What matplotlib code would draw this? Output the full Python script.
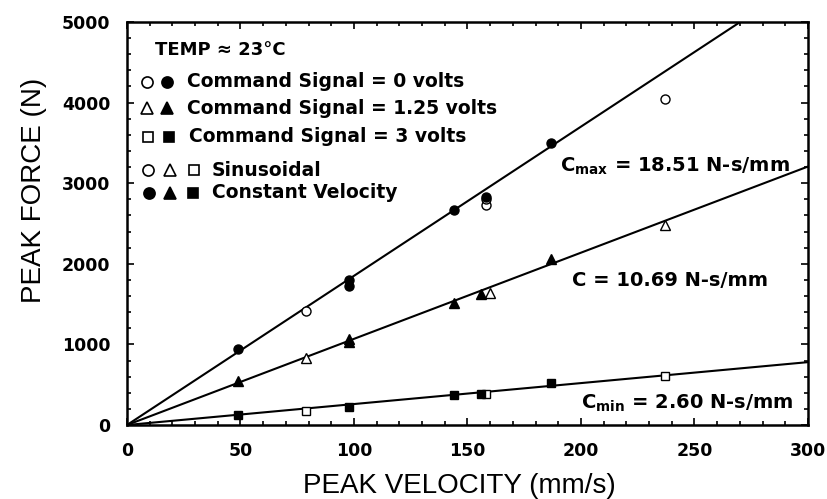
import matplotlib
matplotlib.use("Agg")
import matplotlib.pyplot as plt
import numpy as np
from matplotlib.ticker import MultipleLocator

plt.rcParams['font.family'] = ['Liberation Sans', 'DejaVu Sans']

# Fitted damping coefficients (N-s/mm)
c_max = 18.51
c_mid = 10.69
c_min = 2.60

# 0 volts (circles)
v0_sin = [79, 158, 158, 237]
f0_sin = [1420, 2730, 2800, 4040]
v0_cv = [49, 98, 98, 144, 158, 187]
f0_cv = [940, 1730, 1800, 2670, 2830, 3500]

# 1.25 volts (triangles)
v1_sin = [79, 160, 237]
f1_sin = [830, 1640, 2480]
v1_cv = [49, 98, 98, 144, 156, 187]
f1_cv = [540, 1030, 1070, 1510, 1630, 2060]

# 3 volts (squares)
v3_sin = [79, 158, 237]
f3_sin = [170, 380, 610]
v3_cv = [49, 98, 144, 156, 187]
f3_cv = [130, 220, 370, 380, 520]

W, H = 828, 499
fig = plt.figure(figsize=(W / 100, H / 100), dpi=100)


def fx(px):
    return px / W


def fy(py):
    return 1 - py / H


ax = fig.add_axes([fx(127), fy(425), fx(808) - fx(127), fy(22) - fy(425)])

vfit = np.linspace(0, 300, 200)
for c in (c_max, c_mid, c_min):
    ax.plot(vfit, c * vfit, color='black', lw=1.5, zorder=2)

ms = 6.5
ax.plot(v0_sin, f0_sin, 'o', mfc='white', mec='black', ms=ms, mew=1.0, zorder=3)
ax.plot(v0_cv, f0_cv, 'o', mfc='black', mec='black', ms=ms, zorder=3)
ax.plot(v1_sin, f1_sin, '^', mfc='white', mec='black', ms=ms, mew=1.0, zorder=3)
ax.plot(v1_cv, f1_cv, '^', mfc='black', mec='black', ms=ms, zorder=3)
ax.plot(v3_sin, f3_sin, 's', mfc='white', mec='black', ms=ms - 1, mew=1.0, zorder=3)
ax.plot(v3_cv, f3_cv, 's', mfc='black', mec='black', ms=ms - 1, zorder=3)

ax.set_xlim(0, 300)
ax.set_ylim(0, 5000)
ax.xaxis.set_major_locator(MultipleLocator(50))
ax.yaxis.set_major_locator(MultipleLocator(1000))
ax.xaxis.set_minor_locator(MultipleLocator(10))
ax.yaxis.set_minor_locator(MultipleLocator(200))
ax.tick_params(which='both', direction='in', top=True, right=True, width=1.2)
ax.tick_params(which='major', length=5, labelsize=12.5)
ax.tick_params(which='minor', length=3)
ax.tick_params(axis='x', which='major', pad=12)
ax.tick_params(axis='y', which='major', pad=12)
for lab in ax.get_xticklabels() + ax.get_yticklabels():
    lab.set_fontweight('bold')
    lab.set_family('DejaVu Sans')
for s in ax.spines.values():
    s.set_linewidth(1.8)

fig.text(fx(303), fy(486), 'PEAK VELOCITY (mm/s)', fontsize=20, ha='left', va='center')
fig.text(fx(34), fy(190), 'PEAK FORCE (N)', fontsize=20, rotation=90, ha='center', va='center')

# key block (top-left)
tf = fig.transFigure
bold = dict(fontweight='bold', family='DejaVu Sans', va='center', ha='left')
fig.text(fx(155), fy(50), 'TEMP \u2248 23\u00b0C', fontsize=13, **bold)
rows = [
    (82, [147, 167], ['o', 'o'], ['white', 'black'], 'Command Signal = 0 volts', 187),
    (108, [147, 167], ['^', '^'], ['white', 'black'], 'Command Signal = 1.25 volts', 187),
    (137, [148, 169], ['s', 's'], ['white', 'black'], 'Command Signal = 3 volts', 189),
    (170, [148, 170, 194], ['o', '^', 's'], ['white'] * 3, 'Sinusoidal', 212),
    (193, [149, 170, 193], ['o', '^', 's'], ['black'] * 3, 'Constant Velocity', 212),
]
for py, xs, ms_, fcs, label, tx in rows:
    for sx, m, fc in zip(xs, ms_, fcs):
        ax.plot([fx(sx)], [fy(py)], m, transform=tf, mfc=fc, mec='black',
                ms=8 if m != 's' else 7, mew=1.2, clip_on=False)
    fig.text(fx(tx), fy(py), label, fontsize=13.5, **bold)

fig.text(fx(560), fy(166), r'C$_{\mathbf{max}}$ = 18.51 N-s/mm', fontsize=14, **bold)
fig.text(fx(572), fy(281), 'C = 10.69 N-s/mm', fontsize=14, **bold)
fig.text(fx(581), fy(403), r'C$_{\mathbf{min}}$ = 2.60 N-s/mm', fontsize=14, **bold)

fig.savefig('out.png', dpi=100)
